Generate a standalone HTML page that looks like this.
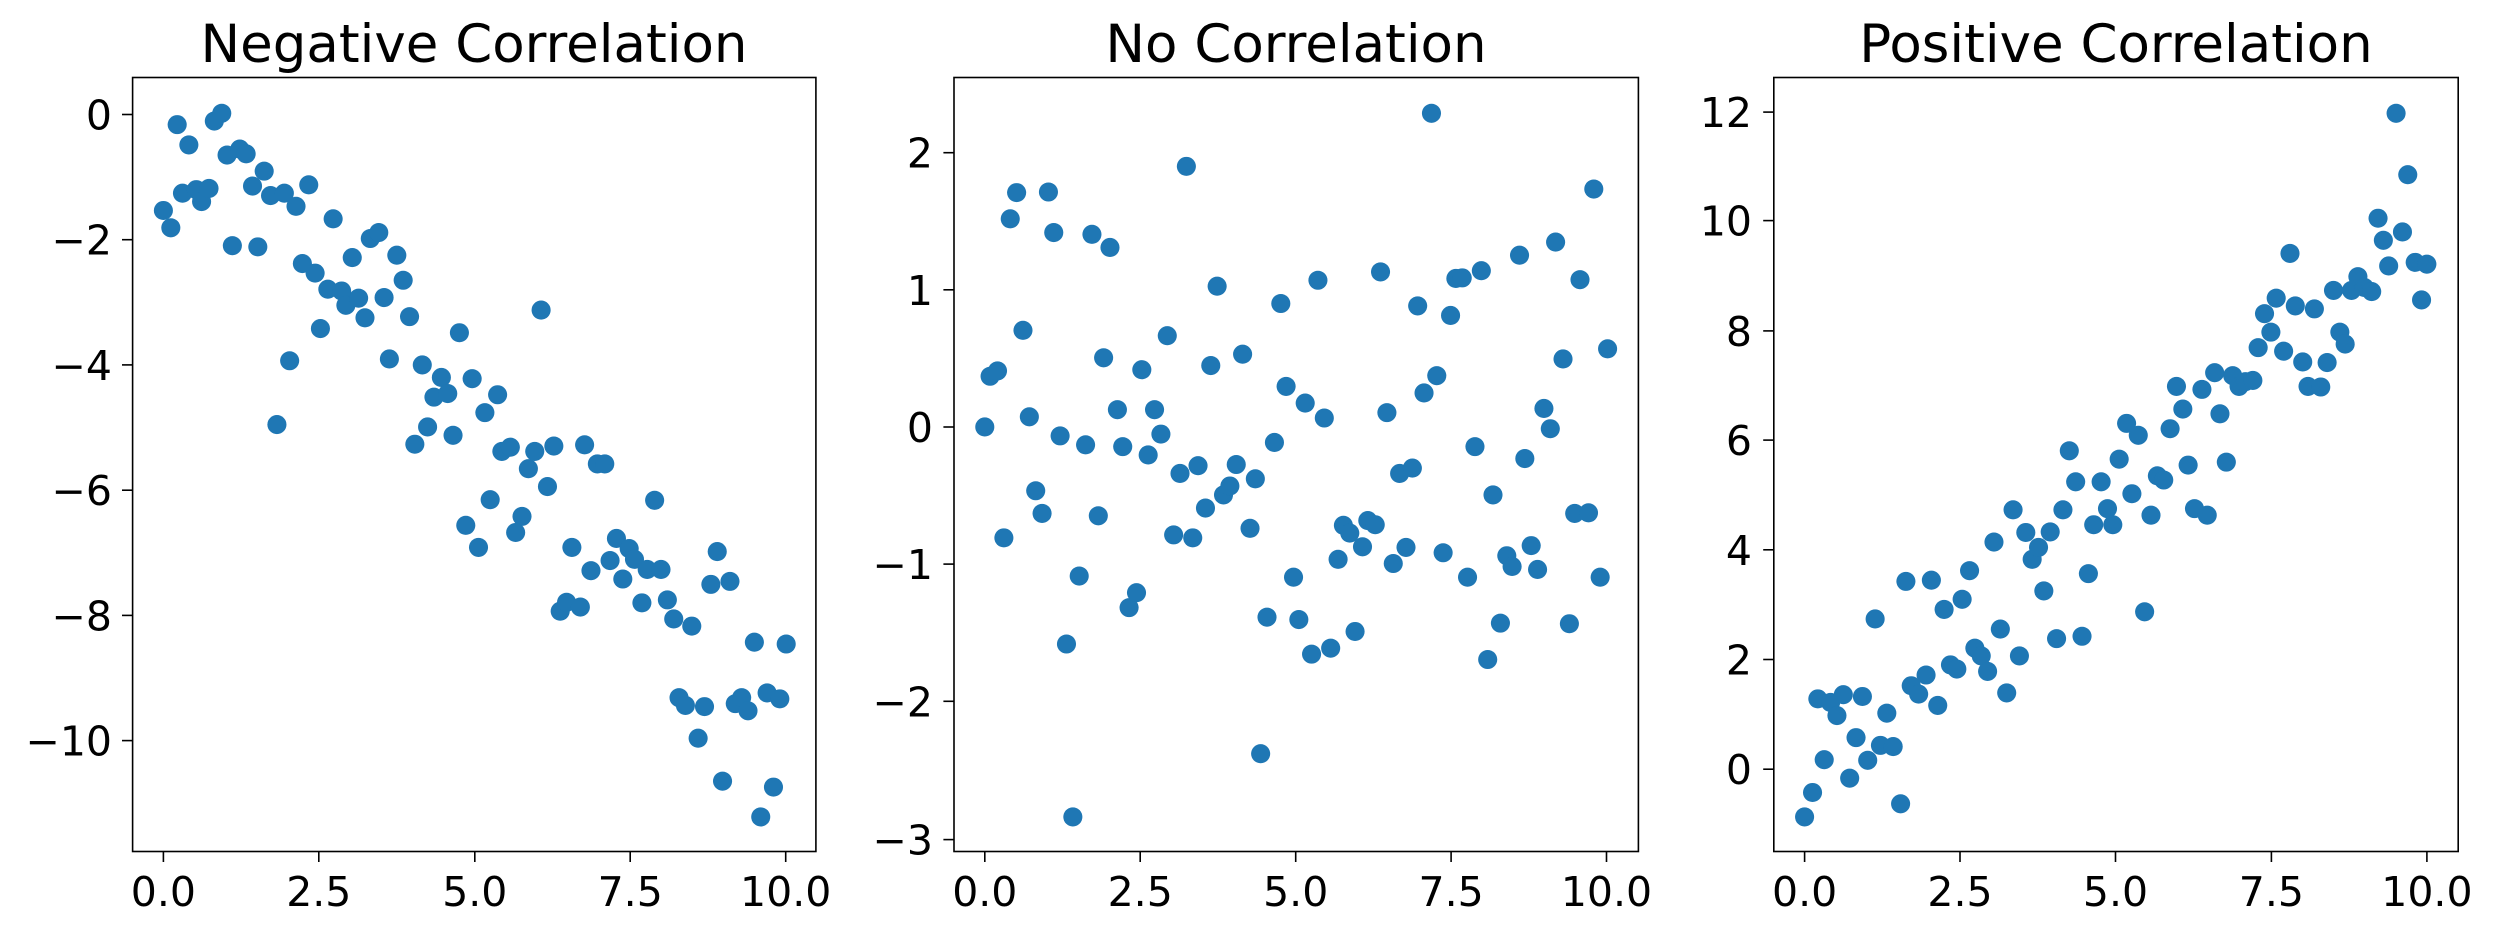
<!DOCTYPE html>
<html><head><meta charset="utf-8"><style>
html,body{margin:0;padding:0;background:#fff}
svg{display:block}
text{font-family:"DejaVu Sans","Liberation Sans",sans-serif;fill:#000}
.t{font-size:41px}
.ti{font-size:53px}
</style></head><body>
<svg width="2496" height="930" viewBox="0 0 2496 930" xmlns="http://www.w3.org/2000/svg">
<rect width="2496" height="930" fill="#fff"/>

<!-- Panel 1 -->
<g transform="translate(0,0) scale(0.5305,0.5963)" fill="#1f77b4">
<g id="p1">
<ellipse cx="308" cy="353" rx="18" ry="16"/><ellipse cx="322" cy="382" rx="18" ry="16"/><ellipse cx="334" cy="209" rx="18" ry="16"/><ellipse cx="356" cy="243" rx="18" ry="16"/><ellipse cx="344" cy="324" rx="18" ry="16"/><ellipse cx="370" cy="318" rx="18" ry="16"/><ellipse cx="380" cy="338" rx="18" ry="16"/><ellipse cx="394" cy="316" rx="18" ry="16"/><ellipse cx="404" cy="203" rx="18" ry="16"/><ellipse cx="418" cy="190" rx="18" ry="16"/><ellipse cx="428" cy="260" rx="18" ry="16"/><ellipse cx="438" cy="412" rx="18" ry="16"/><ellipse cx="452" cy="250" rx="18" ry="16"/><ellipse cx="464" cy="258" rx="18" ry="16"/><ellipse cx="476" cy="312" rx="18" ry="16"/><ellipse cx="486" cy="414" rx="18" ry="16"/><ellipse cx="498" cy="287" rx="18" ry="16"/><ellipse cx="510" cy="328" rx="18" ry="16"/><ellipse cx="536" cy="324" rx="18" ry="16"/><ellipse cx="546" cy="605" rx="18" ry="16"/><ellipse cx="522" cy="712" rx="18" ry="16"/><ellipse cx="558" cy="346" rx="18" ry="16"/><ellipse cx="570" cy="442" rx="18" ry="16"/><ellipse cx="582" cy="310" rx="18" ry="16"/><ellipse cx="594" cy="458" rx="18" ry="16"/><ellipse cx="604" cy="551" rx="18" ry="16"/><ellipse cx="618" cy="485" rx="18" ry="16"/><ellipse cx="628" cy="367" rx="18" ry="16"/><ellipse cx="644" cy="488" rx="18" ry="16"/><ellipse cx="652" cy="512" rx="18" ry="16"/><ellipse cx="664" cy="432" rx="18" ry="16"/><ellipse cx="676" cy="500" rx="18" ry="16"/><ellipse cx="688" cy="533" rx="18" ry="16"/><ellipse cx="698" cy="400" rx="18" ry="16"/><ellipse cx="714" cy="390" rx="18" ry="16"/><ellipse cx="724" cy="499" rx="18" ry="16"/><ellipse cx="734" cy="602" rx="18" ry="16"/><ellipse cx="748" cy="428" rx="18" ry="16"/><ellipse cx="760" cy="470" rx="18" ry="16"/><ellipse cx="772" cy="531" rx="18" ry="16"/><ellipse cx="782" cy="745" rx="18" ry="16"/><ellipse cx="796" cy="612" rx="18" ry="16"/><ellipse cx="806" cy="716" rx="18" ry="16"/><ellipse cx="818" cy="666" rx="18" ry="16"/><ellipse cx="832" cy="633" rx="18" ry="16"/><ellipse cx="844" cy="660" rx="18" ry="16"/><ellipse cx="854" cy="730" rx="18" ry="16"/><ellipse cx="866" cy="558" rx="18" ry="16"/><ellipse cx="878" cy="881" rx="18" ry="16"/><ellipse cx="890" cy="635" rx="18" ry="16"/><ellipse cx="902" cy="918" rx="18" ry="16"/><ellipse cx="914" cy="692" rx="18" ry="16"/><ellipse cx="924" cy="838" rx="18" ry="16"/><ellipse cx="938" cy="662" rx="18" ry="16"/><ellipse cx="946" cy="757" rx="18" ry="16"/><ellipse cx="962" cy="750" rx="18" ry="16"/><ellipse cx="972" cy="893" rx="18" ry="16"/><ellipse cx="984" cy="866" rx="18" ry="16"/><ellipse cx="996" cy="786" rx="18" ry="16"/><ellipse cx="1008" cy="757" rx="18" ry="16"/><ellipse cx="1020" cy="520" rx="18" ry="16"/><ellipse cx="1032" cy="816" rx="18" ry="16"/><ellipse cx="1044" cy="748" rx="18" ry="16"/><ellipse cx="1056" cy="1025" rx="18" ry="16"/><ellipse cx="1068" cy="1010" rx="18" ry="16"/><ellipse cx="1078" cy="918" rx="18" ry="16"/><ellipse cx="1094" cy="1018" rx="18" ry="16"/><ellipse cx="1102" cy="746" rx="18" ry="16"/><ellipse cx="1114" cy="957" rx="18" ry="16"/><ellipse cx="1126" cy="778" rx="18" ry="16"/><ellipse cx="1140" cy="778" rx="18" ry="16"/><ellipse cx="1150" cy="940" rx="18" ry="16"/><ellipse cx="1162" cy="903" rx="18" ry="16"/><ellipse cx="1174" cy="971" rx="18" ry="16"/><ellipse cx="1186" cy="920" rx="18" ry="16"/><ellipse cx="1196" cy="938" rx="18" ry="16"/><ellipse cx="1210" cy="1011" rx="18" ry="16"/><ellipse cx="1220" cy="955" rx="18" ry="16"/><ellipse cx="1234" cy="839" rx="18" ry="16"/><ellipse cx="1246" cy="955" rx="18" ry="16"/><ellipse cx="1258" cy="1006" rx="18" ry="16"/><ellipse cx="1270" cy="1038" rx="18" ry="16"/><ellipse cx="1280" cy="1170" rx="18" ry="16"/><ellipse cx="1292" cy="1183" rx="18" ry="16"/><ellipse cx="1304" cy="1050" rx="18" ry="16"/><ellipse cx="1316" cy="1238" rx="18" ry="16"/><ellipse cx="1328" cy="1185" rx="18" ry="16"/><ellipse cx="1340" cy="980" rx="18" ry="16"/><ellipse cx="1352" cy="925" rx="18" ry="16"/><ellipse cx="1362" cy="1310" rx="18" ry="16"/><ellipse cx="1376" cy="975" rx="18" ry="16"/><ellipse cx="1386" cy="1180" rx="18" ry="16"/><ellipse cx="1398" cy="1170" rx="18" ry="16"/><ellipse cx="1410" cy="1192" rx="18" ry="16"/><ellipse cx="1422" cy="1077" rx="18" ry="16"/><ellipse cx="1434" cy="1370" rx="18" ry="16"/><ellipse cx="1446" cy="1162" rx="18" ry="16"/><ellipse cx="1458" cy="1320" rx="18" ry="16"/><ellipse cx="1470" cy="1172" rx="18" ry="16"/><ellipse cx="1482" cy="1080" rx="18" ry="16"/>
</g></g>
<rect x="132.6" y="77.5" width="683.3" height="774" fill="none" stroke="#000" stroke-width="1.6"/>
<g stroke="#000" stroke-width="1.6">
<line x1="163.4" y1="851.5" x2="163.4" y2="862"/><line x1="318.8" y1="851.5" x2="318.8" y2="862"/><line x1="474.8" y1="851.5" x2="474.8" y2="862"/><line x1="630.2" y1="851.5" x2="630.2" y2="862"/><line x1="785.7" y1="851.5" x2="785.7" y2="862"/>
<line x1="122" y1="114.5" x2="132.6" y2="114.5"/><line x1="122" y1="239.7" x2="132.6" y2="239.7"/><line x1="122" y1="364.9" x2="132.6" y2="364.9"/><line x1="122" y1="490.2" x2="132.6" y2="490.2"/><line x1="122" y1="615.4" x2="132.6" y2="615.4"/><line x1="122" y1="740.6" x2="132.6" y2="740.6"/>
</g>
<g class="t" text-anchor="middle">
<text x="163.4" y="906">0.0</text><text x="318.8" y="906">2.5</text><text x="474.8" y="906">5.0</text><text x="630.2" y="906">7.5</text><text x="785.7" y="906">10.0</text>
</g>
<g class="t" text-anchor="end">
<text x="112" y="129.5">0</text><text x="112" y="254.7">−2</text><text x="112" y="379.9">−4</text><text x="112" y="505.2">−6</text><text x="112" y="630.4">−8</text><text x="112" y="755.6">−10</text>
</g>
<text class="ti" x="474" y="62" text-anchor="middle">Negative Correlation</text>

<!-- Panel 2 -->
<g transform="translate(832,0) scale(0.5305,0.5963)" fill="#1f77b4">
<ellipse cx="288" cy="716" rx="18" ry="16"/><ellipse cx="298" cy="631" rx="18" ry="16"/><ellipse cx="312" cy="622" rx="18" ry="16"/><ellipse cx="324" cy="902" rx="18" ry="16"/><ellipse cx="336" cy="367" rx="18" ry="16"/><ellipse cx="348" cy="323" rx="18" ry="16"/><ellipse cx="360" cy="554" rx="18" ry="16"/><ellipse cx="372" cy="699" rx="18" ry="16"/><ellipse cx="384" cy="823" rx="18" ry="16"/><ellipse cx="396" cy="861" rx="18" ry="16"/><ellipse cx="408" cy="322" rx="18" ry="16"/><ellipse cx="418" cy="390" rx="18" ry="16"/><ellipse cx="430" cy="731" rx="18" ry="16"/><ellipse cx="442" cy="1080" rx="18" ry="16"/><ellipse cx="454" cy="1370" rx="18" ry="16"/><ellipse cx="466" cy="966" rx="18" ry="16"/><ellipse cx="478" cy="746" rx="18" ry="16"/><ellipse cx="490" cy="393" rx="18" ry="16"/><ellipse cx="502" cy="865" rx="18" ry="16"/><ellipse cx="512" cy="600" rx="18" ry="16"/><ellipse cx="524" cy="415" rx="18" ry="16"/><ellipse cx="538" cy="687" rx="18" ry="16"/><ellipse cx="548" cy="749" rx="18" ry="16"/><ellipse cx="560" cy="1019" rx="18" ry="16"/><ellipse cx="574" cy="994" rx="18" ry="16"/><ellipse cx="584" cy="620" rx="18" ry="16"/><ellipse cx="596" cy="763" rx="18" ry="16"/><ellipse cx="608" cy="687" rx="18" ry="16"/><ellipse cx="620" cy="728" rx="18" ry="16"/><ellipse cx="632" cy="563" rx="18" ry="16"/><ellipse cx="644" cy="897" rx="18" ry="16"/><ellipse cx="656" cy="794" rx="18" ry="16"/><ellipse cx="668" cy="279" rx="18" ry="16"/><ellipse cx="680" cy="902" rx="18" ry="16"/><ellipse cx="690" cy="781" rx="18" ry="16"/><ellipse cx="704" cy="852" rx="18" ry="16"/><ellipse cx="714" cy="613" rx="18" ry="16"/><ellipse cx="726" cy="480" rx="18" ry="16"/><ellipse cx="738" cy="830" rx="18" ry="16"/><ellipse cx="750" cy="815" rx="18" ry="16"/><ellipse cx="762" cy="779" rx="18" ry="16"/><ellipse cx="774" cy="594" rx="18" ry="16"/><ellipse cx="788" cy="886" rx="18" ry="16"/><ellipse cx="798" cy="803" rx="18" ry="16"/><ellipse cx="808" cy="1264" rx="18" ry="16"/><ellipse cx="820" cy="1035" rx="18" ry="16"/><ellipse cx="834" cy="742" rx="18" ry="16"/><ellipse cx="846" cy="509" rx="18" ry="16"/><ellipse cx="856" cy="648" rx="18" ry="16"/><ellipse cx="870" cy="968" rx="18" ry="16"/><ellipse cx="880" cy="1039" rx="18" ry="16"/><ellipse cx="892" cy="676" rx="18" ry="16"/><ellipse cx="904" cy="1097" rx="18" ry="16"/><ellipse cx="916" cy="470" rx="18" ry="16"/><ellipse cx="928" cy="701" rx="18" ry="16"/><ellipse cx="940" cy="1087" rx="18" ry="16"/><ellipse cx="954" cy="938" rx="18" ry="16"/><ellipse cx="964" cy="881" rx="18" ry="16"/><ellipse cx="976" cy="894" rx="18" ry="16"/><ellipse cx="986" cy="1059" rx="18" ry="16"/><ellipse cx="1000" cy="917" rx="18" ry="16"/><ellipse cx="1010" cy="873" rx="18" ry="16"/><ellipse cx="1024" cy="880" rx="18" ry="16"/><ellipse cx="1034" cy="456" rx="18" ry="16"/><ellipse cx="1046" cy="692" rx="18" ry="16"/><ellipse cx="1058" cy="945" rx="18" ry="16"/><ellipse cx="1070" cy="794" rx="18" ry="16"/><ellipse cx="1082" cy="918" rx="18" ry="16"/><ellipse cx="1094" cy="785" rx="18" ry="16"/><ellipse cx="1104" cy="513" rx="18" ry="16"/><ellipse cx="1116" cy="659" rx="18" ry="16"/><ellipse cx="1130" cy="190" rx="18" ry="16"/><ellipse cx="1140" cy="630" rx="18" ry="16"/><ellipse cx="1152" cy="927" rx="18" ry="16"/><ellipse cx="1166" cy="529" rx="18" ry="16"/><ellipse cx="1176" cy="467" rx="18" ry="16"/><ellipse cx="1188" cy="466" rx="18" ry="16"/><ellipse cx="1198" cy="968" rx="18" ry="16"/><ellipse cx="1212" cy="749" rx="18" ry="16"/><ellipse cx="1224" cy="454" rx="18" ry="16"/><ellipse cx="1236" cy="1106" rx="18" ry="16"/><ellipse cx="1246" cy="830" rx="18" ry="16"/><ellipse cx="1260" cy="1045" rx="18" ry="16"/><ellipse cx="1272" cy="932" rx="18" ry="16"/><ellipse cx="1282" cy="950" rx="18" ry="16"/><ellipse cx="1296" cy="428" rx="18" ry="16"/><ellipse cx="1306" cy="769" rx="18" ry="16"/><ellipse cx="1318" cy="915" rx="18" ry="16"/><ellipse cx="1330" cy="955" rx="18" ry="16"/><ellipse cx="1342" cy="685" rx="18" ry="16"/><ellipse cx="1354" cy="719" rx="18" ry="16"/><ellipse cx="1364" cy="406" rx="18" ry="16"/><ellipse cx="1378" cy="602" rx="18" ry="16"/><ellipse cx="1390" cy="1046" rx="18" ry="16"/><ellipse cx="1400" cy="861" rx="18" ry="16"/><ellipse cx="1410" cy="469" rx="18" ry="16"/><ellipse cx="1426" cy="860" rx="18" ry="16"/><ellipse cx="1436" cy="317" rx="18" ry="16"/><ellipse cx="1448" cy="968" rx="18" ry="16"/><ellipse cx="1462" cy="585" rx="18" ry="16"/>
</g>
<rect x="954" y="77.5" width="684.4" height="774" fill="none" stroke="#000" stroke-width="1.6"/>
<g stroke="#000" stroke-width="1.6">
<line x1="984.8" y1="851.5" x2="984.8" y2="862"/><line x1="1140.2" y1="851.5" x2="1140.2" y2="862"/><line x1="1295.7" y1="851.5" x2="1295.7" y2="862"/><line x1="1451.1" y1="851.5" x2="1451.1" y2="862"/><line x1="1606.5" y1="851.5" x2="1606.5" y2="862"/>
<line x1="943.4" y1="152.7" x2="954" y2="152.7"/><line x1="943.4" y1="289.8" x2="954" y2="289.8"/><line x1="943.4" y1="427" x2="954" y2="427"/><line x1="943.4" y1="564.1" x2="954" y2="564.1"/><line x1="943.4" y1="701.3" x2="954" y2="701.3"/><line x1="943.4" y1="839.6" x2="954" y2="839.6"/>
</g>
<g class="t" text-anchor="middle">
<text x="984.8" y="906">0.0</text><text x="1140.2" y="906">2.5</text><text x="1295.7" y="906">5.0</text><text x="1451.1" y="906">7.5</text><text x="1606.5" y="906">10.0</text>
</g>
<g class="t" text-anchor="end">
<text x="933" y="167.7">2</text><text x="933" y="304.8">1</text><text x="933" y="442">0</text><text x="933" y="579.1">−1</text><text x="933" y="716.3">−2</text><text x="933" y="854.6">−3</text>
</g>
<text class="ti" x="1296" y="62" text-anchor="middle">No Correlation</text>

<!-- Panel 3 -->
<g transform="translate(1664,0) scale(0.5305,0.5963)" fill="#1f77b4">
<ellipse cx="265" cy="1370" rx="18" ry="16"/><ellipse cx="280" cy="1329" rx="18" ry="16"/><ellipse cx="290" cy="1172" rx="18" ry="16"/><ellipse cx="302" cy="1274" rx="18" ry="16"/><ellipse cx="314" cy="1178" rx="18" ry="16"/><ellipse cx="326" cy="1200" rx="18" ry="16"/><ellipse cx="338" cy="1165" rx="18" ry="16"/><ellipse cx="350" cy="1305" rx="18" ry="16"/><ellipse cx="362" cy="1237" rx="18" ry="16"/><ellipse cx="374" cy="1168" rx="18" ry="16"/><ellipse cx="384" cy="1275" rx="18" ry="16"/><ellipse cx="398" cy="1038" rx="18" ry="16"/><ellipse cx="408" cy="1250" rx="18" ry="16"/><ellipse cx="420" cy="1196" rx="18" ry="16"/><ellipse cx="432" cy="1252" rx="18" ry="16"/><ellipse cx="446" cy="1348" rx="18" ry="16"/><ellipse cx="456" cy="975" rx="18" ry="16"/><ellipse cx="466" cy="1150" rx="18" ry="16"/><ellipse cx="480" cy="1164" rx="18" ry="16"/><ellipse cx="494" cy="1132" rx="18" ry="16"/><ellipse cx="504" cy="973" rx="18" ry="16"/><ellipse cx="516" cy="1183" rx="18" ry="16"/><ellipse cx="528" cy="1022" rx="18" ry="16"/><ellipse cx="540" cy="1115" rx="18" ry="16"/><ellipse cx="552" cy="1122" rx="18" ry="16"/><ellipse cx="562" cy="1005" rx="18" ry="16"/><ellipse cx="576" cy="957" rx="18" ry="16"/><ellipse cx="586" cy="1087" rx="18" ry="16"/><ellipse cx="598" cy="1100" rx="18" ry="16"/><ellipse cx="610" cy="1126" rx="18" ry="16"/><ellipse cx="622" cy="909" rx="18" ry="16"/><ellipse cx="634" cy="1055" rx="18" ry="16"/><ellipse cx="646" cy="1162" rx="18" ry="16"/><ellipse cx="658" cy="855" rx="18" ry="16"/><ellipse cx="670" cy="1100" rx="18" ry="16"/><ellipse cx="682" cy="893" rx="18" ry="16"/><ellipse cx="694" cy="938" rx="18" ry="16"/><ellipse cx="706" cy="918" rx="18" ry="16"/><ellipse cx="716" cy="991" rx="18" ry="16"/><ellipse cx="728" cy="892" rx="18" ry="16"/><ellipse cx="740" cy="1071" rx="18" ry="16"/><ellipse cx="752" cy="855" rx="18" ry="16"/><ellipse cx="764" cy="756" rx="18" ry="16"/><ellipse cx="776" cy="808" rx="18" ry="16"/><ellipse cx="788" cy="1067" rx="18" ry="16"/><ellipse cx="800" cy="962" rx="18" ry="16"/><ellipse cx="810" cy="880" rx="18" ry="16"/><ellipse cx="824" cy="808" rx="18" ry="16"/><ellipse cx="836" cy="853" rx="18" ry="16"/><ellipse cx="846" cy="880" rx="18" ry="16"/><ellipse cx="858" cy="770" rx="18" ry="16"/><ellipse cx="872" cy="710" rx="18" ry="16"/><ellipse cx="882" cy="828" rx="18" ry="16"/><ellipse cx="894" cy="730" rx="18" ry="16"/><ellipse cx="906" cy="1026" rx="18" ry="16"/><ellipse cx="918" cy="864" rx="18" ry="16"/><ellipse cx="930" cy="798" rx="18" ry="16"/><ellipse cx="942" cy="805" rx="18" ry="16"/><ellipse cx="954" cy="719" rx="18" ry="16"/><ellipse cx="966" cy="648" rx="18" ry="16"/><ellipse cx="978" cy="686" rx="18" ry="16"/><ellipse cx="988" cy="780" rx="18" ry="16"/><ellipse cx="1000" cy="853" rx="18" ry="16"/><ellipse cx="1014" cy="653" rx="18" ry="16"/><ellipse cx="1024" cy="864" rx="18" ry="16"/><ellipse cx="1038" cy="625" rx="18" ry="16"/><ellipse cx="1048" cy="694" rx="18" ry="16"/><ellipse cx="1060" cy="775" rx="18" ry="16"/><ellipse cx="1072" cy="630" rx="18" ry="16"/><ellipse cx="1084" cy="648" rx="18" ry="16"/><ellipse cx="1096" cy="640" rx="18" ry="16"/><ellipse cx="1110" cy="638" rx="18" ry="16"/><ellipse cx="1120" cy="583" rx="18" ry="16"/><ellipse cx="1132" cy="526" rx="18" ry="16"/><ellipse cx="1144" cy="557" rx="18" ry="16"/><ellipse cx="1154" cy="500" rx="18" ry="16"/><ellipse cx="1168" cy="589" rx="18" ry="16"/><ellipse cx="1180" cy="425" rx="18" ry="16"/><ellipse cx="1190" cy="513" rx="18" ry="16"/><ellipse cx="1204" cy="607" rx="18" ry="16"/><ellipse cx="1214" cy="648" rx="18" ry="16"/><ellipse cx="1226" cy="518" rx="18" ry="16"/><ellipse cx="1238" cy="649" rx="18" ry="16"/><ellipse cx="1250" cy="608" rx="18" ry="16"/><ellipse cx="1262" cy="487" rx="18" ry="16"/><ellipse cx="1274" cy="557" rx="18" ry="16"/><ellipse cx="1284" cy="577" rx="18" ry="16"/><ellipse cx="1296" cy="487" rx="18" ry="16"/><ellipse cx="1308" cy="464" rx="18" ry="16"/><ellipse cx="1320" cy="482" rx="18" ry="16"/><ellipse cx="1334" cy="489" rx="18" ry="16"/><ellipse cx="1346" cy="366" rx="18" ry="16"/><ellipse cx="1356" cy="403" rx="18" ry="16"/><ellipse cx="1366" cy="446" rx="18" ry="16"/><ellipse cx="1380" cy="190" rx="18" ry="16"/><ellipse cx="1392" cy="389" rx="18" ry="16"/><ellipse cx="1402" cy="293" rx="18" ry="16"/><ellipse cx="1416" cy="440" rx="18" ry="16"/><ellipse cx="1428" cy="503" rx="18" ry="16"/><ellipse cx="1438" cy="443" rx="18" ry="16"/>
</g>
<rect x="1773.8" y="77.5" width="684.4" height="774" fill="none" stroke="#000" stroke-width="1.6"/>
<g stroke="#000" stroke-width="1.6">
<line x1="1804.6" y1="851.5" x2="1804.6" y2="862"/><line x1="1960" y1="851.5" x2="1960" y2="862"/><line x1="2115.5" y1="851.5" x2="2115.5" y2="862"/><line x1="2271.4" y1="851.5" x2="2271.4" y2="862"/><line x1="2426.9" y1="851.5" x2="2426.9" y2="862"/>
<line x1="1763.2" y1="112.1" x2="1773.8" y2="112.1"/><line x1="1763.2" y1="220.6" x2="1773.8" y2="220.6"/><line x1="1763.2" y1="330.9" x2="1773.8" y2="330.9"/><line x1="1763.2" y1="440.1" x2="1773.8" y2="440.1"/><line x1="1763.2" y1="549.8" x2="1773.8" y2="549.8"/><line x1="1763.2" y1="659.5" x2="1773.8" y2="659.5"/><line x1="1763.2" y1="769.2" x2="1773.8" y2="769.2"/>
</g>
<g class="t" text-anchor="middle">
<text x="1804.6" y="906">0.0</text><text x="1960" y="906">2.5</text><text x="2115.5" y="906">5.0</text><text x="2271.4" y="906">7.5</text><text x="2426.9" y="906">10.0</text>
</g>
<g class="t" text-anchor="end">
<text x="1752" y="127.1">12</text><text x="1752" y="235.6">10</text><text x="1752" y="345.9">8</text><text x="1752" y="455.1">6</text><text x="1752" y="564.8">4</text><text x="1752" y="674.5">2</text><text x="1752" y="784.2">0</text>
</g>
<text class="ti" x="2116" y="62" text-anchor="middle">Positive Correlation</text>
</svg>
</body></html>
